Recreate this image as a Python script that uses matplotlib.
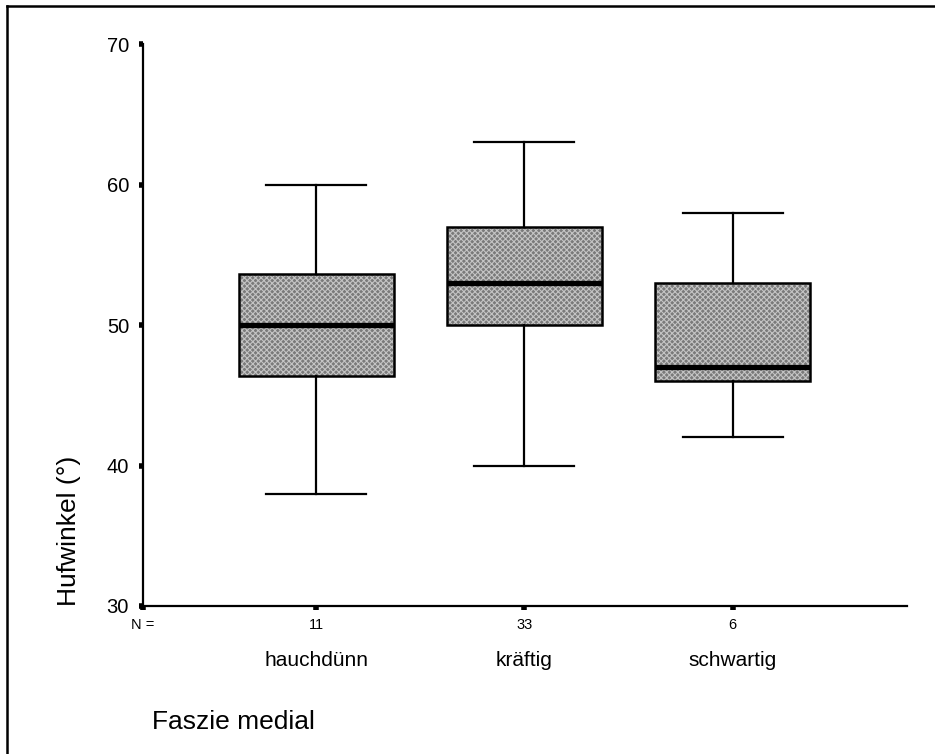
import matplotlib
matplotlib.use('Agg')
import matplotlib.pyplot as plt
from matplotlib.patches import PathPatch
from matplotlib.lines import Line2D

plt.rcParams['font.family'] = ['Liberation Sans', 'DejaVu Sans']
plt.rcParams['hatch.linewidth'] = 0.8

# group labels, counts and box statistics
groups = ['hauchdünn', 'kräftig', 'schwartig']
counts = [11, 33, 6]
whislo = [38, 40, 42]
q1 = [46.4, 50, 46]
med = [50, 53, 47]
q3 = [53.6, 57, 53]
whishi = [60, 63, 58]

stats = []
for i in range(len(groups)):
    stats.append(dict(label=groups[i], whislo=whislo[i], q1=q1[i], med=med[i],
                      q3=q3[i], whishi=whishi[i], fliers=[]))

fig = plt.figure(figsize=(9.35, 7.54), dpi=100)
ax = fig.add_axes([0.1529, 0.1963, 0.970 - 0.1529, 0.9416 - 0.1963])

pos = [1, 2, 3]
bp = ax.bxp(stats, positions=pos, widths=0.745, capwidths=0.48, patch_artist=True,
            showfliers=False,
            boxprops=dict(facecolor='#7a7a7a', edgecolor='#c4c4c4', hatch='xxxxxx', linewidth=0),
            whiskerprops=dict(color='black', linewidth=1.6),
            capprops=dict(color='black', linewidth=1.6),
            medianprops=dict(color='black', linewidth=3.8, solid_capstyle='butt'))
for b in bp['boxes']:
    ax.add_patch(PathPatch(b.get_path(), fill=False, edgecolor='black', linewidth=1.8, zorder=3))
for m in bp['medians']:
    m.set_zorder(4)

ax.set_xlim(0.168, 3.837)
ax.set_ylim(30, 70)
ax.spines['top'].set_visible(False)
ax.spines['right'].set_visible(False)
ax.spines['left'].set_linewidth(1.6)
ax.spines['bottom'].set_linewidth(1.6)

ax.set_yticks([30, 40, 50, 60, 70])
ax.tick_params(axis='y', direction='out', length=3, width=4, labelsize=14.5, pad=7)
ax.set_xticks([0.168] + pos)
ax.set_xticklabels(['N ='] + [str(c) for c in counts])
ax.tick_params(axis='x', direction='out', length=3, width=4, labelsize=10.5, pad=6)

for p, g in zip(pos, groups):
    ax.text(p, 26.15, g, ha='center', va='center', fontsize=15)

fig.text(69 / 935, 1 - 606 / 754, 'Hufwinkel (°)', rotation=90, ha='center', va='bottom', fontsize=19)
fig.text(152 / 935, 1 - 722 / 754, 'Faszie medial', ha='left', va='center', fontsize=19)

# outer frame (top and left edges)
fig.add_artist(Line2D([7 / 935, 7 / 935], [0, 1 - 6 / 754], transform=fig.transFigure, color='black', linewidth=1.8))
fig.add_artist(Line2D([7 / 935, 1], [1 - 6 / 754, 1 - 6 / 754], transform=fig.transFigure, color='black', linewidth=1.8))

fig.savefig('out.png', dpi=100)
